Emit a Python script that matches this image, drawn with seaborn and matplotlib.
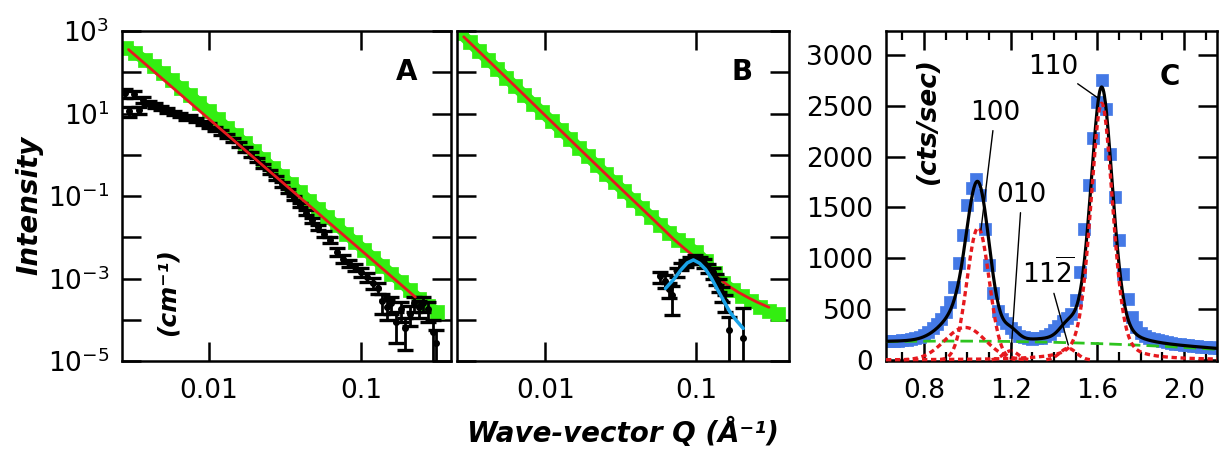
import numpy as np
import matplotlib
matplotlib.use("Agg")
import matplotlib.pyplot as plt
from matplotlib.ticker import FixedLocator, NullLocator, MultipleLocator
import seaborn as sns

# ---------------- Panel A: small-angle scattering, two samples ----------------
a_green_q = [0.002884, 0.003311, 0.003802, 0.004365, 0.005012, 0.005754, 0.006607,
             0.007586, 0.00871, 0.0100, 0.01148, 0.01318, 0.01514, 0.01738, 0.01995,
             0.02291, 0.0263, 0.0302, 0.03467, 0.03981, 0.04571, 0.05248, 0.06026,
             0.06918, 0.07943, 0.0912, 0.1047, 0.1202, 0.138, 0.1585, 0.182, 0.2089,
             0.2399, 0.2754, 0.3162]
a_green_i = [398, 288, 200, 138, 93.3, 63.1, 41.7, 27.5, 17.8, 11.5, 7.24, 4.57, 2.95,
             1.91, 1.20, 0.776, 0.479, 0.309, 0.195, 0.123, 0.0776, 0.0490, 0.0309,
             0.0195, 0.0123, 7.76e-3, 5.01e-3, 3.16e-3, 2.04e-3, 1.29e-3, 8.32e-4,
             5.13e-4, 3.24e-4, 2.14e-4, 1.55e-4]

a_fit_q = [0.00298, 0.2275]
a_fit_i = [355.0, 3.55e-4]

a_black_q = [0.00282, 0.00302, 0.00324, 0.00347, 0.00372, 0.00407, 0.00447, 0.00490,
             0.00537, 0.00589, 0.00646, 0.00708, 0.00759, 0.00832, 0.00912, 0.0100,
             0.0110, 0.0120, 0.0132, 0.0145, 0.0158, 0.0174, 0.0191, 0.0209, 0.0229,
             0.0251, 0.0275, 0.0302, 0.0331, 0.0363, 0.0398, 0.0437, 0.0479, 0.0525,
             0.0575, 0.0631, 0.0692, 0.0759, 0.0832, 0.0912, 0.100, 0.110, 0.120,
             0.129, 0.138, 0.148, 0.158, 0.170, 0.182, 0.195, 0.209, 0.224, 0.240,
             0.257, 0.275, 0.295, 0.313]
a_black_i = [31.6, 11.2, 29.5, 12.0, 21.4, 18.2, 15.8, 13.8, 12.0, 10.5, 9.12, 7.76,
             8.32, 7.08, 6.03, 5.13, 4.27, 3.47, 2.82, 2.29, 1.78, 1.35, 1.02, 0.741,
             0.537, 0.389, 0.275, 0.191, 0.132, 0.0891, 0.0603, 0.0398, 0.0263, 0.0178,
             0.0120, 8.51e-3, 4.47e-3, 3.02e-3, 2.40e-3, 1.91e-3, 1.41e-3, 1.10e-3,
             7.94e-4, 6.03e-4, 2.82e-4, 2.00e-4, 2.51e-4, 8.91e-5, 1.78e-4, 6.31e-5,
             1.41e-4, 2.51e-4, 2.00e-4, 2.51e-4, 1.78e-4, 5.0e-5, 2.8e-5]
a_black_rel = [0.25, 0.25, 0.2, 0.2, 0.15, 0.12, 0.12, 0.12, 0.12, 0.12, 0.12, 0.12,
               0.12, 0.12, 0.12, 0.12, 0.12, 0.12, 0.12, 0.12, 0.12, 0.12, 0.12, 0.12,
               0.12, 0.12, 0.12, 0.12, 0.12, 0.12, 0.12, 0.12, 0.14, 0.14,
               0.16, 0.16, 0.2, 0.2, 0.2, 0.2, 0.25, 0.25,
               0.3, 0.3, 0.5, 0.5, 0.45, 0.7, 0.5, 0.7,
               0.5, 0.4, 0.45, 0.4, 0.5, 0.92, 0.96]

# ---------------- Panel B: second sample with correlation peak ----------------
b_green_q = [0.00275, 0.00316, 0.00363, 0.00417, 0.00479, 0.00550, 0.00631, 0.00724,
             0.00832, 0.00955, 0.0110, 0.0126, 0.0145, 0.0166, 0.0191, 0.0219, 0.0251,
             0.0288, 0.0331, 0.0380, 0.0437, 0.0501, 0.0575, 0.0661, 0.0759, 0.0871,
             0.100, 0.115, 0.132, 0.151, 0.174, 0.200, 0.229, 0.263, 0.302, 0.347]
b_green_i = [871, 537, 324, 200, 123, 74.1, 45.7, 28.2, 17.4, 10.7, 6.46, 3.98, 2.45,
             1.48, 0.912, 0.562, 0.347, 0.214, 0.132, 0.0813, 0.0501, 0.0316, 0.0200,
             0.0129, 8.71e-3, 6.31e-3, 4.37e-3, 2.63e-3, 1.38e-3, 7.94e-4, 5.25e-4,
             3.72e-4, 2.82e-4, 2.09e-4, 1.66e-4, 1.38e-4]

b_fit_q = [0.00288, 0.00631, 0.0158, 0.0316, 0.0501, 0.0708, 0.0832, 0.0955, 0.110,
           0.126, 0.145, 0.166, 0.191, 0.219, 0.251, 0.302]
b_fit_i = [724, 45.7, 1.74, 0.151, 0.0302, 8.91e-3, 5.37e-3, 3.55e-3, 2.29e-3,
           1.41e-3, 9.33e-4, 6.31e-4, 4.57e-4, 3.47e-4, 2.69e-4, 2.0e-4]

b_peak_q = [0.0624, 0.0708, 0.0794, 0.0871, 0.0955, 0.105, 0.115, 0.126, 0.138,
            0.151, 0.166, 0.182, 0.204]
b_peak_i = [5.75e-4, 9.55e-4, 1.66e-3, 2.40e-3, 2.82e-3, 2.34e-3, 1.66e-3, 1.0e-3,
            5.37e-4, 2.95e-4, 1.58e-4, 1.0e-4, 6.17e-5]

b_black_q = [0.0575, 0.0617, 0.0661, 0.0692, 0.0741, 0.0794, 0.0851, 0.0912, 0.0977,
             0.105, 0.112, 0.120, 0.129, 0.135, 0.141, 0.148, 0.155, 0.164, 0.204]
b_black_i = [1.12e-3, 8.91e-4, 5.62e-4, 3.98e-4, 1.41e-3, 2.0e-3, 2.40e-3, 2.82e-3,
             3.02e-3, 2.82e-3, 2.40e-3, 1.78e-3, 1.41e-3, 1.0e-3, 7.08e-4, 4.47e-4,
             2.82e-4, 5.62e-5, 3.55e-5]
b_black_rel = [0.3, 0.35, 0.4, 0.68, 0.25, 0.2, 0.2, 0.2, 0.2, 0.2, 0.25, 0.25, 0.3,
               0.3, 0.35, 0.4, 0.45, 1.1, 4.5]

# ---------------- Panel C: wide-angle diffraction with peak fit ----------------
c_q = [0.62, 0.64, 0.66, 0.68, 0.70, 0.72, 0.74, 0.76, 0.78, 0.80, 0.82, 0.84, 0.86,
       0.88, 0.90, 0.92, 0.94, 0.96, 0.98, 1.00, 1.02, 1.04, 1.06, 1.08, 1.10, 1.12,
       1.14, 1.16, 1.18, 1.20, 1.22, 1.24, 1.26, 1.28, 1.30, 1.32, 1.34, 1.36, 1.38,
       1.40, 1.42, 1.44, 1.46, 1.48, 1.50, 1.52, 1.54, 1.56, 1.58, 1.60, 1.62, 1.64,
       1.66, 1.68, 1.70, 1.72, 1.74, 1.76, 1.78, 1.80, 1.82, 1.84, 1.86, 1.88, 1.90,
       1.92, 1.94, 1.96, 1.98, 2.00, 2.02, 2.04, 2.06, 2.08, 2.10, 2.12, 2.14, 2.16]
c_cts = [182, 184, 186, 189, 192, 197, 203, 213, 228, 248, 276, 310, 352, 402, 470,
         570, 720, 950, 1230, 1520, 1690, 1780, 1620, 1290, 930, 660, 480, 400, 360,
         318, 272, 240, 222, 212, 210, 213, 220, 232, 255, 290, 335, 380, 410, 455,
         590, 870, 1290, 1720, 2180, 2540, 2755, 2470, 2030, 1600, 1180, 850, 600,
         420, 320, 268, 238, 218, 204, 193, 183, 175, 168, 162, 156, 150, 145, 140,
         136, 132, 128, 124, 120, 117]

# fitted components: centre, height, FWHM, Lorentzian fraction
peak_center = [0.99, 1.05, 1.20, 1.465, 1.62]
peak_height = [320, 1300, 90, 115, 2525]
peak_fwhm = [0.22, 0.12, 0.08, 0.09, 0.12]
peak_eta = [0.0, 0.0, 0.0, 0.0, 0.3]
bg_coef = [138.6, 101.6, -54.55]

c_labels = ["100", "010", r"$11\overline{2}$", "110"]
c_label_xy = [(1.128, 2429), (1.251, 1622), (1.374, 852), (1.397, 2884)]
c_label_target = [(1.063, 1278), (1.20, 17), (1.466, 147), (1.605, 2573)]

# ---------------- styling ----------------
GREEN = "#33ee11"
RED = "#e6191e"
SKY = "#1aa3e8"
BLUE = "#4479e6"
BGGREEN = "#2ec41f"

sns.set_theme(style="ticks")
plt.rcParams.update({
    "font.family": ["DejaVu Sans"],
    "mathtext.fontset": "dejavusans",
    "axes.linewidth": 1.8,
    "axes.edgecolor": "black",
    "text.color": "black",
    "axes.labelcolor": "black",
    "xtick.color": "black",
    "ytick.color": "black",
    "axes.facecolor": "white",
    "figure.facecolor": "white",
})

fig = plt.figure(figsize=(12.2, 4.5), dpi=100)
W, H = 1220.0, 450.0
axA = fig.add_axes([122 / W, 89 / H, 329 / W, 330 / H])
axB = fig.add_axes([457 / W, 89 / H, 332 / W, 330 / H])
axC = fig.add_axes([886 / W, 89 / H, 331 / W, 330 / H])


def style_ticks(ax):
    ax.tick_params(which="major", direction="in", length=14, width=1.8,
                   top=True, right=True, labelsize=19, colors="black")
    ax.tick_params(which="minor", direction="in", length=6.5, width=1.6,
                   top=True, right=True)
    ax.tick_params(axis="x", which="major", pad=12)
    ax.tick_params(axis="y", which="major", pad=9)
    for sp in ax.spines.values():
        sp.set_linewidth(1.8)
        sp.set_color("black")
        sp.set_visible(True)


decades = list(range(-5, 4))
ylabels = [r"$10^{%d}$" % k if k % 2 else "" for k in decades]

for ax, xlim in ((axA, (0.0027, 0.39)), (axB, (0.0026, 0.41))):
    ax.set_xscale("log")
    ax.set_yscale("log")
    ax.set_xlim(*xlim)
    ax.set_ylim(1e-5, 1e3)
    ax.xaxis.set_major_locator(FixedLocator([0.01, 0.1]))
    ax.xaxis.set_minor_locator(NullLocator())
    ax.set_xticklabels(["0.01", "0.1"])
    ax.yaxis.set_major_locator(FixedLocator([10.0 ** k for k in decades]))
    ax.yaxis.set_minor_locator(NullLocator())
    style_ticks(ax)

axA.set_yticklabels(ylabels)
axB.set_yticklabels([""] * len(decades))


def green_band(ax, q, i):
    # dense measured points: a thick trace plus square markers
    sns.lineplot(x=q, y=i, color=GREEN, lw=8, ax=ax, zorder=2, sort=False)
    sns.scatterplot(x=q, y=i, marker="s", s=95, color=GREEN, edgecolor=GREEN,
                    linewidth=0.5, ax=ax, zorder=2)


# --- panel A
green_band(axA, a_green_q, a_green_i)
a_err = np.array(a_black_rel) * np.array(a_black_i)
axA.errorbar(a_black_q, a_black_i, yerr=a_err, fmt="o", ms=4, color="black",
             ecolor="black", elinewidth=2.0, capsize=5.5, capthick=2.4, zorder=3)
sns.lineplot(x=a_fit_q, y=a_fit_i, color=RED, lw=2.0, ax=axA, zorder=4)
axA.text(0.865, 0.877, "A", transform=axA.transAxes, ha="center", va="center",
         fontsize=20, fontweight="bold")
axA.text(0.137, 0.209, "(cm\u207b\u00b9)", transform=axA.transAxes, rotation=90,
         ha="center", va="center", fontsize=18, fontweight="bold", style="italic")

# --- panel B
green_band(axB, b_green_q, b_green_i)
sns.lineplot(x=b_fit_q, y=b_fit_i, color=RED, lw=2.0, ax=axB, zorder=3)
b_err = np.array(b_black_rel) * np.array(b_black_i)
axB.errorbar(b_black_q, b_black_i, yerr=b_err, fmt="o", ms=4, color="black",
             ecolor="black", elinewidth=2.0, capsize=5.5, capthick=2.4, zorder=4)
sns.lineplot(x=b_peak_q, y=b_peak_i, color=SKY, lw=2.5, ax=axB, zorder=5)
axB.text(0.858, 0.877, "B", transform=axB.transAxes, ha="center", va="center",
         fontsize=20, fontweight="bold")

# --- panel C
C_XLIM = (0.625, 2.152)
q_fine = np.linspace(C_XLIM[0], C_XLIM[1], 600)


def component(x, c, h, w, eta):
    g = np.exp(-4 * np.log(2) * (x - c) ** 2 / w ** 2)
    lor = 1.0 / (1.0 + 4 * (x - c) ** 2 / w ** 2)
    return h * ((1 - eta) * g + eta * lor)


background = bg_coef[0] + bg_coef[1] * q_fine + bg_coef[2] * q_fine ** 2
parts = [component(q_fine, c, h, w, e)
         for c, h, w, e in zip(peak_center, peak_height, peak_fwhm, peak_eta)]
total = background + np.sum(parts, axis=0)

sns.scatterplot(x=c_q, y=c_cts, marker="s", s=85, color=BLUE, edgecolor=BLUE,
                linewidth=0.5, ax=axC, zorder=2)
sns.lineplot(x=q_fine, y=background, color=BGGREEN, lw=2.0,
             linestyle=(0, (4.5, 2.2)), ax=axC, zorder=3)
sns.lineplot(x=q_fine, y=total, color="black", lw=2.3, ax=axC, zorder=4)

# the strongest component runs along the full baseline; the others are drawn
# only where they rise above it, so the baseline keeps a single dot pattern
strongest = int(np.argmax(peak_height))
for k, p in enumerate(parts):
    y = p.copy()
    if k != strongest:
        y[y < 3] = np.nan
    axC.plot(q_fine, y, color=RED, lw=2.4, linestyle=(0, (1.6, 1.1)), zorder=6,
             clip_on=False)

for txt, xy_t, xy in zip(c_labels, c_label_xy, c_label_target):
    axC.annotate(txt, xy=xy, xytext=xy_t, ha="center", va="center", fontsize=19,
                 color="black",
                 arrowprops=dict(arrowstyle="-", color="black", lw=1.0,
                                 shrinkA=1, shrinkB=0), zorder=7)

axC.set_xlim(*C_XLIM)
axC.set_ylim(-10, 3235)
axC.xaxis.set_major_locator(FixedLocator([0.8, 1.2, 1.6, 2.0]))
axC.xaxis.set_minor_locator(MultipleLocator(0.1))
axC.set_xticklabels(["0.8", "1.2", "1.6", "2.0"])
axC.yaxis.set_major_locator(MultipleLocator(500))
axC.yaxis.set_minor_locator(NullLocator())
style_ticks(axC)
axC.text(0.858, 0.862, "C", transform=axC.transAxes, ha="center", va="center",
         fontsize=20, fontweight="bold")
axC.text(0.127, 0.73, "(cts/sec)", transform=axC.transAxes, rotation=90,
         ha="center", va="center", fontsize=19, fontweight="bold", style="italic")

for ax in (axA, axB, axC):
    ax.set_xlabel("")
    ax.set_ylabel("")

fig.text(29 / W, 1 - 205 / H, "Intensity", rotation=90, ha="center", va="center",
         fontsize=20, fontweight="bold", style="italic")
fig.text(623 / W, 1 - 433 / H, "Wave-vector Q (\u00c5\u207b\u00b9)", ha="center",
         va="center", fontsize=20, fontweight="bold", style="italic")

fig.savefig("out.png", dpi=100)
